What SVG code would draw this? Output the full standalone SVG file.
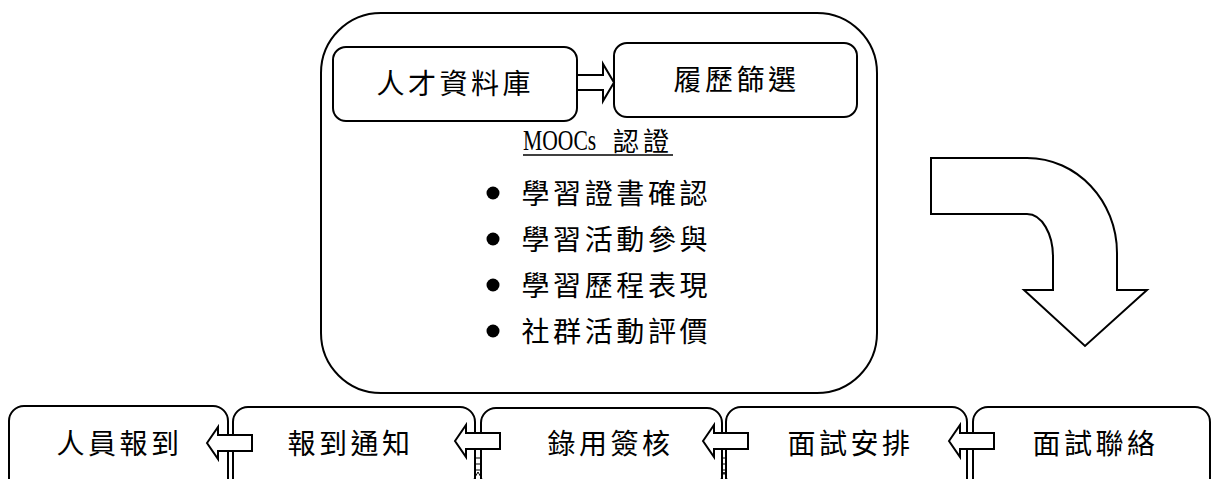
<svg xmlns="http://www.w3.org/2000/svg" width="1212" height="479" viewBox="0 0 1212 479">
<style>
.box{fill:#fff;stroke:#000;stroke-width:2}
.arr{fill:#fff;stroke:#000;stroke-width:2;stroke-linejoin:miter}
.t{font-family:"Noto Sans CJK TC","Noto Sans CJK SC",sans-serif;font-size:28px;letter-spacing:3.5px;fill:#000}
.b{font-family:"Noto Sans CJK TC","Noto Sans CJK SC",sans-serif;font-size:28px;letter-spacing:3.6px;fill:#000}
.lad{fill:none;stroke:#000;stroke-width:1}
</style>
<defs>
<path id="larr" d="M0,0 L11,-16 L11,-8 L45,-8 L45,8 L11,8 L11,16 Z"/>
</defs>
<g id="moocs-group">
<rect class="box" x="321" y="13" width="556" height="380" rx="60" ry="60"/>
<text transform="translate(523,150) scale(0.72,1)" font-family="Liberation Serif,serif" font-size="30">MOOCs</text>
<text x="613" y="151" class="t" style="font-size:26px;letter-spacing:4px">認證</text>
<line x1="523" y1="155" x2="673" y2="155" stroke="#000" stroke-width="1.6"/>
<circle cx="493" cy="193" r="6.5"/>
<text class="b" x="521.5" y="203.5">學習證書確認</text>
<circle cx="493" cy="239" r="6.5"/>
<text class="b" x="521.5" y="249.5">學習活動參與</text>
<circle cx="493" cy="285" r="6.5"/>
<text class="b" x="521.5" y="295.5">學習歷程表現</text>
<circle cx="493" cy="331" r="6.5"/>
<text class="b" x="521.5" y="341.5">社群活動評價</text>
</g>
<g id="talent-db">
<rect class="box" x="333" y="47" width="244" height="74" rx="13"/>
<text class="t" x="376.5" y="93.5">人才資料庫</text>
</g>
<g id="resume-screen">
<rect class="box" x="614" y="43" width="243" height="74" rx="13"/>
<text class="t" x="673.5" y="89.5">履歷篩選</text>
</g>
<g id="report">
<rect class="box" x="9" y="406" width="219" height="100" rx="15"/>
<text class="t" x="56.5" y="453.5">人員報到</text>
</g>
<g id="notify">
<rect class="box" x="233" y="407" width="242" height="100" rx="15"/>
<text class="t" x="287.5" y="453.5">報到通知</text>
</g>
<g id="hire">
<rect class="box" x="481" y="408" width="241" height="100" rx="15"/>
<text class="t" x="547.5" y="453.5">錄用簽核</text>
</g>
<g id="interview-arrange">
<rect class="box" x="726" y="407" width="241" height="100" rx="15"/>
<text class="t" x="787.5" y="453.5">面試安排</text>
</g>
<g id="interview-contact">
<rect class="box" x="973" y="407" width="237" height="100" rx="15"/>
<text class="t" x="1032.5" y="453.5">面試聯絡</text>
</g>
<g id="connectors">
<path class="arr" d="M577,75 L603,75 L603,64 L614,82.5 L603,101 L603,90 L577,90 Z"/>
<path class="arr" d="M931,158 L1027,158 C1077,158 1117,201 1117,253 L1117,290 L1147,290 L1085,346 L1024,290 L1053,290 L1053,257 C1053,234 1042,214 1027,214 L931,214 Z"/>
<use href="#larr" class="arr" x="207" y="443"/>
<use href="#larr" class="arr" x="455" y="441"/>
<use href="#larr" class="arr" x="703" y="441"/>
<use href="#larr" class="arr" x="949" y="441"/>
<path class="lad" d="M476,458 H480 M476,464 H480 M476,470 H480 M478,472 L474,479 M478,472 L482,479"/>
<path class="lad" d="M723,458 H725 M723,464 H725 M723,470 H725 M724,472 L721,479 M724,472 L727,479"/>
</g>
</svg>
